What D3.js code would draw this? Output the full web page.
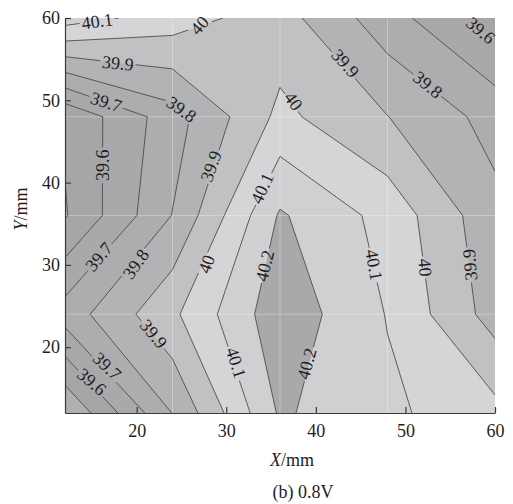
<!DOCTYPE html>
<html>
<head>
<meta charset="utf-8">
<title>contour 0.8V</title>
<script src="https://d3js.org/d3.v7.min.js"></script>
<style>
  body { margin: 0; background: #fff; }
  text { font-family: "Liberation Serif", "Times New Roman", serif; fill: #1e1e1e; }
</style>
</head>
<body>
<script>
// measurement grid (mm)
var xGrid = [12, 24, 36, 48, 60];
var yGrid = [12, 24, 36, 48, 60];

// values, one row per Y, columns follow xGrid
var rowY12 = [39.404, 39.803, 40.214, 40.120, 40.032];
var rowY24 = [39.745, 39.980, 40.268, 40.095, 39.857];
var rowY36 = [39.492, 39.803, 40.212, 40.065, 39.829];
var rowY48 = [39.515, 39.757, 40.025, 39.902, 39.764];
var rowY60 = [40.148, 40.052, 39.941, 39.742, 39.560];

var levels = [39.5, 39.6, 39.7, 39.8, 39.9, 40.0, 40.1, 40.2];
// fill for below 39.5, then one per band above each level
var bandColors = ["#b0b0b2", "#a6a6a8", "#a9a9ab", "#adadaf", "#b3b3b5",
                  "#c1c1c3", "#d5d5d7", "#d0d0d2", "#a9a9ab"];

var xTicks = [20, 30, 40, 50, 60];
var yTicks = [20, 30, 40, 50, 60];

// inline contour labels: text, position (mm), rotation (deg)
var labelText = ["40.1", "40", "39.9", "39.7", "39.8", "39.6", "39.9", "40.1",
                 "40", "39.9", "39.8", "39.6", "40.2", "40.1", "40", "39.9",
                 "39.7", "39.8", "40", "39.9", "40.1", "40.2", "39.7", "39.6"];
var labelX = [15.6, 27.0, 17.9, 16.6, 25.0, 16.2, 28.3, 34.0,
              37.5, 43.3, 52.5, 58.4, 34.3, 46.5, 52.2, 57.2,
              15.8, 19.9, 27.8, 21.9, 31.1, 39.0, 16.7, 15.0];
var labelY = [59.6, 59.1, 54.5, 49.8, 48.9, 42.1, 42.0, 39.3,
              49.9, 54.5, 51.9, 58.5, 29.9, 30.0, 29.7, 30.0,
              31.0, 30.1, 30.1, 21.6, 18.1, 18.0, 17.7, 15.8];
var labelRot = [-8, -48, 6, 18, 35, -90, -70, -65,
                54, 48, 39, 40, -76, 80, 85, -95,
                -50, -55, -70, 50, 72, -75, 43, 40];

var width = 513, height = 504;
var margin = {top: 18, right: 18, bottom: 91, left: 65};

var x = d3.scaleLinear().domain([12, 60]).range([margin.left, width - margin.right]);
var y = d3.scaleLinear().domain([12, 60]).range([height - margin.bottom, margin.top]);

var svg = d3.select("body").append("svg")
    .attr("width", width)
    .attr("height", height);

var defs = svg.append("defs");
defs.append("clipPath").attr("id", "plotClip")
  .append("rect")
    .attr("x", x(12)).attr("y", y(60))
    .attr("width", x(60) - x(12)).attr("height", y(12) - y(60));

var mask = defs.append("mask").attr("id", "labelMask")
    .attr("maskUnits", "userSpaceOnUse")
    .attr("x", 0).attr("y", 0).attr("width", width).attr("height", height);
mask.append("rect").attr("width", width).attr("height", height).attr("fill", "white");

// contours on the grid (d3 puts sample i at i + 0.5)
var values = [].concat(rowY12, rowY24, rowY36, rowY48, rowY60);
var dxg = xGrid[1] - xGrid[0], dyg = yGrid[1] - yGrid[0];
var bands = d3.contours()
    .size([xGrid.length, yGrid.length])
    .thresholds(levels)(values);

var proj = d3.geoTransform({
  point: function(px, py) {
    this.stream.point(x(xGrid[0] + (px - 0.5) * dxg), y(yGrid[0] + (py - 0.5) * dyg));
  }
});
var path = d3.geoPath(proj);

var plot = svg.append("g").attr("clip-path", "url(#plotClip)");

plot.append("rect")
    .attr("x", x(12)).attr("y", y(60))
    .attr("width", x(60) - x(12)).attr("height", y(12) - y(60))
    .attr("fill", bandColors[0]);

plot.selectAll("path.band")
  .data(bands)
  .enter().append("path")
    .attr("class", "band")
    .attr("d", path)
    .attr("fill", function(d, i) { return bandColors[i + 1]; });

// faint mesh lines
plot.selectAll("line.gx")
  .data(xGrid.slice(1, -1))
  .enter().append("line")
    .attr("x1", function(d) { return x(d); }).attr("x2", function(d) { return x(d); })
    .attr("y1", y(60)).attr("y2", y(12))
    .attr("stroke", "#ffffff").attr("stroke-opacity", 0.3);
plot.selectAll("line.gy")
  .data(yGrid.slice(1, -1))
  .enter().append("line")
    .attr("y1", function(d) { return y(d); }).attr("y2", function(d) { return y(d); })
    .attr("x1", x(12)).attr("x2", x(60))
    .attr("stroke", "#ffffff").attr("stroke-opacity", 0.3);

plot.append("g")
    .attr("mask", "url(#labelMask)")
  .selectAll("path")
  .data(bands)
  .enter().append("path")
    .attr("d", path)
    .attr("fill", "none")
    .attr("stroke", "#4d4d4f")
    .attr("stroke-width", 0.9);

// contour labels
var lab = svg.append("g").selectAll("text")
  .data(labelText)
  .enter().append("text")
    .attr("transform", function(d, i) {
      return "translate(" + x(labelX[i]) + "," + y(labelY[i]) + ") rotate(" + labelRot[i] + ")";
    })
    .attr("text-anchor", "middle")
    .attr("dy", "0.34em")
    .style("font-size", "18px")
    .text(function(d) { return d; });

lab.each(function(d, i) {
  var w = this.getComputedTextLength() + 4;
  mask.append("rect")
    .attr("x", -w / 2).attr("y", -8)
    .attr("width", w).attr("height", 16)
    .attr("fill", "black")
    .attr("transform", "translate(" + x(labelX[i]) + "," + y(labelY[i]) + ") rotate(" + labelRot[i] + ")");
});

// axes, ticks point inwards
var xAxis = d3.axisBottom(x).tickValues(xTicks).tickSizeInner(-6).tickSizeOuter(0).tickPadding(11);
var yAxis = d3.axisLeft(y).tickValues(yTicks).tickSizeInner(-6).tickSizeOuter(0).tickPadding(5);

var gx = svg.append("g")
    .attr("transform", "translate(0," + y(12) + ")")
    .call(xAxis);
var gy = svg.append("g")
    .attr("transform", "translate(" + x(12) + ",0)")
    .call(yAxis);

[gx, gy].forEach(function(g) {
  g.select(".domain").attr("stroke", "#3a3a3a").attr("stroke-width", 1.2);
  g.selectAll(".tick line").attr("stroke", "#3a3a3a").attr("stroke-width", 1.2);
  g.selectAll(".tick text")
    .style("font-size", "18px")
    .style("font-family", "'Liberation Serif', serif")
    .attr("fill", "#1e1e1e");
});

// axis titles
var xt = svg.append("text")
    .attr("x", 292).attr("y", 466)
    .attr("text-anchor", "middle")
    .style("font-size", "18px");
xt.append("tspan").style("font-style", "italic").text("X");
xt.append("tspan").text("/mm");

var yt = svg.append("text")
    .attr("transform", "translate(27,209) rotate(-90)")
    .attr("text-anchor", "middle")
    .style("font-size", "18px");
yt.append("tspan").style("font-style", "italic").text("Y");
yt.append("tspan").text("/mm");

svg.append("text")
    .attr("x", 303).attr("y", 498)
    .attr("text-anchor", "middle")
    .style("font-size", "18px")
    .text("(b) 0.8V");
</script>
</body>
</html>
